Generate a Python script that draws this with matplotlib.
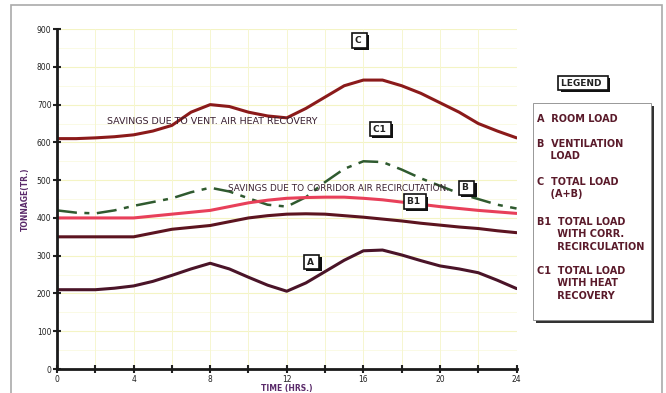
import numpy as np
import matplotlib.pyplot as plt
import matplotlib.patheffects as pe
from matplotlib.patches import Rectangle

hours = [0, 1, 2, 3, 4, 5, 6, 7, 8, 9, 10, 11, 12, 13, 14, 15, 16, 17, 18, 19, 20, 21, 22, 23, 24]

load_c = [610, 610, 612, 615, 620, 630, 645, 680, 700, 695, 680, 670, 665, 690, 720, 750, 765, 765, 750, 730, 705, 680, 650, 630, 612]
load_c1 = [420, 414, 412, 420, 432, 442, 452, 468, 480, 470, 452, 435, 430, 455, 495, 530, 550, 548, 528, 505, 485, 465, 450, 435, 425]
load_b1 = [400, 400, 400, 400, 400, 405, 410, 415, 420, 430, 440, 447, 452, 454, 455, 455, 452, 448, 442, 436, 430, 425, 420, 416, 412]
load_b = [350, 350, 350, 350, 350, 360, 370, 375, 380, 390, 400, 406, 410, 411, 410, 406, 402, 397, 392, 386, 381, 376, 372, 366, 361]
load_a = [210, 210, 210, 214, 220, 232, 248, 265, 280, 265, 243, 222, 206, 228, 258, 288, 313, 315, 302, 287, 273, 265, 255, 235, 213]

curve_tags = ['C', 'C1', 'B', 'B1', 'A']
tag_x = [15.8, 16.9, 21.4, 18.7, 13.3]
tag_y = [870, 635, 480, 443, 283]

legend_lines = ['A  ROOM LOAD', 'B  VENTILATION\n    LOAD', 'C  TOTAL LOAD\n    (A+B)',
                'B1  TOTAL LOAD\n      WITH CORR.\n      RECIRCULATION', 'C1  TOTAL LOAD\n      WITH HEAT\n      RECOVERY']

fig = plt.figure(figsize=(6.66, 3.93), dpi=100)
ax = fig.add_axes([0.0856, 0.061, 0.690, 0.865])

# faint yellow grid
for v in range(100, 901, 100):
    ax.axhline(v, color='#f4f4c4', lw=0.8, zorder=0)
for v in range(50, 900, 100):
    ax.axhline(v, color='#fafae0', lw=0.6, zorder=0)
for h in range(2, 25, 2):
    ax.axvline(h, color='#f6f6d0', lw=0.7, zorder=0)

kw = dict(lw=2.2, solid_joinstyle='round', solid_capstyle='round')
ax.plot(hours, load_c, color='#8b1a1a', **kw)
ax.plot(hours, load_c1, color='#2f5a2f', lw=1.8, ls=(0, (8, 3, 2, 3)))
ax.plot(hours, load_b1, color='#e8405a', **kw)
ax.plot(hours, load_b, color='#5c1420', **kw)
ax.plot(hours, load_a, color='#4a1428', **kw)

ax.set_xlim(0, 24)
ax.set_ylim(0, 900)
ax.set_xticks(range(0, 25, 4))
ax.set_xticks(range(2, 25, 4), minor=True)
ax.set_yticks(range(0, 901, 100))
ax.tick_params(axis='both', which='both', direction='inout', length=6, width=1.5, labelsize=5.5,
               colors='#222222', pad=1)
for s in ['top', 'right']:
    ax.spines[s].set_visible(False)
for s in ['left', 'bottom']:
    ax.spines[s].set_linewidth(2)
    ax.spines[s].set_color('#1a1a1a')

ax.set_xlabel('TIME (HRS.)', fontsize=5.5, fontweight='bold', color='#5a2a6a', labelpad=0)
ax.set_ylabel('TONNAGE(TR.)', fontsize=5.5, fontweight='bold', color='#5a2a6a', labelpad=5)

ax.text(8.1, 655, 'SAVINGS DUE TO VENT. AIR HEAT RECOVERY', fontsize=6.8, color='#3a2030',
        ha='center', va='center')
ax.text(14.7, 478, 'SAVINGS DUE TO CORRIDOR AIR RECIRCUTATION.', fontsize=6.4, color='#3a2030',
        ha='center', va='center')

shadow = [pe.SimplePatchShadow(offset=(1.5, -1.5), shadow_rgbFace='#111111', alpha=1), pe.Normal()]


def tag(obj, x, y, s, **extra):
    t = obj.text(x, y, s, fontsize=6.5, fontweight='bold', color='#222222', ha='center', va='center',
                 bbox=dict(boxstyle='square,pad=0.3', fc='white', ec='#111111', lw=1.2), zorder=5, **extra)
    t.get_bbox_patch().set_path_effects(shadow)
    return t


for lbl, x, y in zip(curve_tags, tag_x, tag_y):
    tag(ax, x, y, lbl + ' ')

# legend panel
fig.patches.append(Rectangle((536 / 666, 1 - 323 / 393), 118 / 666, 217 / 393, transform=fig.transFigure,
                             fc='#333333', ec='none', zorder=1))
fig.patches.append(Rectangle((533 / 666, 1 - 320 / 393), 118 / 666, 217 / 393, transform=fig.transFigure,
                             fc='white', ec='#888888', lw=0.6, zorder=2))
tag(fig, 583 / 666, 1 - 83 / 393, 'LEGEND ', transform=fig.transFigure)

ypos = [114, 139, 177, 217, 266]
for t, yp in zip(legend_lines, ypos):
    fig.text(537 / 666, 1 - yp / 393, t, fontsize=7, fontweight='bold', color='#5a1a2a',
             ha='left', va='top', linespacing=1.3, zorder=3)

# outer frame
fig.patches.append(Rectangle((11 / 666, -0.05), 651 / 666, 1.05 - 5 / 393, transform=fig.transFigure,
                             fc='none', ec='#aaaaaa', lw=1.2))

fig.savefig('out.png', dpi=100)
